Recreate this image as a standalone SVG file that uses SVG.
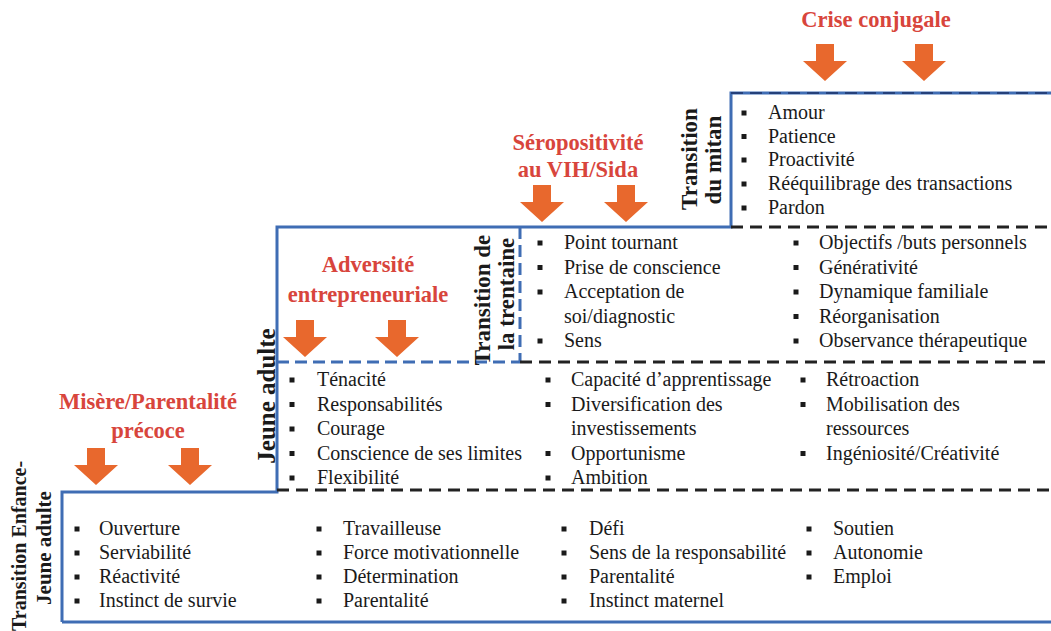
<svg xmlns="http://www.w3.org/2000/svg" xmlns:xlink="http://www.w3.org/1999/xlink" width="1051" height="631" viewBox="0 0 1051 631">
<style>
.item{font-family:"Liberation Serif","Times New Roman",serif;font-size:20px;fill:#1a1a1a}
.head{font-family:"Liberation Serif","Times New Roman",serif;font-size:22.5px;font-weight:bold;fill:#d8453c;text-anchor:middle}
.vlab{font-family:"Liberation Serif","Times New Roman",serif;font-size:23px;font-weight:bold;fill:#1a1a1a;text-anchor:middle}
.blue{fill:none;stroke:#3f6db4;stroke-width:3}
.bdash{fill:none;stroke:#3f6db4;stroke-width:3;stroke-dasharray:12 6}
.kdash{fill:none;stroke:#222;stroke-width:3;stroke-dasharray:12 7}
.arrow{fill:#e8682d}
</style>
<defs>
<rect id="b" x="-2.5" y="-2.5" width="5" height="5" fill="#1a1a1a"/>
<path id="arr" d="M-9,0 H9 V17 H22 L0,37 L-22,17 H-9 Z"/>
</defs>
<rect width="1051" height="631" fill="#fff"/>

<g id="connectors">
<path class="blue" d="M62,622 H1051"/>
<path class="blue" d="M62,622 V492 H277 V227 H731 V93 H1051"/>
<path class="kdash" d="M731,93 H1051" style="stroke:#24407a;stroke-width:2"/>
<path class="bdash" d="M277,362 H520 M520,227 V362"/>
<path class="kdash" d="M731,227 H1051 M520,362 H1051 M277,490 H1051"/>
</g>

<g id="arrows" class="arrow">
<use xlink:href="#arr" x="96" y="448"/>
<use xlink:href="#arr" x="190" y="448"/>
<use xlink:href="#arr" x="305" y="320"/>
<use xlink:href="#arr" x="397" y="320"/>
<use xlink:href="#arr" x="542" y="185"/>
<use xlink:href="#arr" x="626" y="185"/>
<use xlink:href="#arr" x="825" y="44"/>
<use xlink:href="#arr" x="924" y="44"/>
</g>

<g id="headings">
<text class="head" x="148" y="409">Misère/Parentalité</text>
<text class="head" x="148" y="438">précoce</text>
<text class="head" x="368" y="272">Adversité</text>
<text class="head" x="368" y="302">entrepreneuriale</text>
<text class="head" x="578" y="150">Séropositivité</text>
<text class="head" x="578" y="177">au VIH/Sida</text>
<text class="head" x="876" y="27">Crise conjugale</text>
</g>

<g id="labels">
<text class="vlab" style="font-size:20px" transform="translate(26,546) rotate(-90)">Transition Enfance-</text>
<text class="vlab" style="font-size:21px" transform="translate(51,548) rotate(-90)">Jeune adulte</text>
<text class="vlab" style="font-size:25px" transform="translate(275,396) rotate(-90)">Jeune adulte</text>
<text class="vlab" transform="translate(490,300) rotate(-90)">Transition de</text>
<text class="vlab" transform="translate(514,294) rotate(-90)">la trentaine</text>
<text class="vlab" transform="translate(697,159) rotate(-90)">Transition</text>
<text class="vlab" transform="translate(721,160) rotate(-90)">du mitan</text>
</g>

<g id="step1">
<use xlink:href="#b" x="77" y="529"/><text class="item" x="99" y="535">Ouverture</text>
<use xlink:href="#b" x="77" y="553"/><text class="item" x="99" y="559">Serviabilité</text>
<use xlink:href="#b" x="77" y="577"/><text class="item" x="99" y="583">Réactivité</text>
<use xlink:href="#b" x="77" y="601"/><text class="item" x="99" y="607">Instinct de survie</text>
<use xlink:href="#b" x="319" y="529"/><text class="item" x="343" y="535">Travailleuse</text>
<use xlink:href="#b" x="319" y="553"/><text class="item" x="343" y="559">Force motivationnelle</text>
<use xlink:href="#b" x="319" y="577"/><text class="item" x="343" y="583">Détermination</text>
<use xlink:href="#b" x="319" y="601"/><text class="item" x="343" y="607">Parentalité</text>
<use xlink:href="#b" x="564" y="529"/><text class="item" x="589" y="535">Défi</text>
<use xlink:href="#b" x="564" y="553"/><text class="item" x="589" y="559">Sens de la responsabilité</text>
<use xlink:href="#b" x="564" y="577"/><text class="item" x="589" y="583">Parentalité</text>
<use xlink:href="#b" x="564" y="601"/><text class="item" x="589" y="607">Instinct maternel</text>
<use xlink:href="#b" x="809" y="529"/><text class="item" x="833" y="535">Soutien</text>
<use xlink:href="#b" x="809" y="553"/><text class="item" x="833" y="559">Autonomie</text>
<use xlink:href="#b" x="809" y="577"/><text class="item" x="833" y="583">Emploi</text>
</g>

<g id="step2">
<use xlink:href="#b" x="292" y="380"/><text class="item" x="317" y="386">Ténacité</text>
<use xlink:href="#b" x="292" y="404.5"/><text class="item" x="317" y="410.5">Responsabilités</text>
<use xlink:href="#b" x="292" y="429"/><text class="item" x="317" y="435">Courage</text>
<use xlink:href="#b" x="292" y="453.5"/><text class="item" x="317" y="459.5">Conscience de ses limites</text>
<use xlink:href="#b" x="292" y="478"/><text class="item" x="317" y="484">Flexibilité</text>
<use xlink:href="#b" x="548" y="380"/><text class="item" x="571" y="386">Capacité d’apprentissage</text>
<use xlink:href="#b" x="548" y="404.5"/><text class="item" x="571" y="410.5">Diversification des</text>
<text class="item" x="571" y="435">investissements</text>
<use xlink:href="#b" x="548" y="453.5"/><text class="item" x="571" y="459.5">Opportunisme</text>
<use xlink:href="#b" x="548" y="478"/><text class="item" x="571" y="484">Ambition</text>
<use xlink:href="#b" x="803" y="380"/><text class="item" x="826" y="386">Rétroaction</text>
<use xlink:href="#b" x="803" y="404.5"/><text class="item" x="826" y="410.5">Mobilisation des</text>
<text class="item" x="826" y="435">ressources</text>
<use xlink:href="#b" x="803" y="453.5"/><text class="item" x="826" y="459.5">Ingéniosité/Créativité</text>
</g>

<g id="step3">
<use xlink:href="#b" x="540" y="243"/><text class="item" x="564" y="249">Point tournant</text>
<use xlink:href="#b" x="540" y="267.5"/><text class="item" x="564" y="273.5">Prise de conscience</text>
<use xlink:href="#b" x="540" y="292"/><text class="item" x="564" y="298">Acceptation de</text>
<text class="item" x="564" y="322.5">soi/diagnostic</text>
<use xlink:href="#b" x="540" y="341"/><text class="item" x="564" y="347">Sens</text>
<use xlink:href="#b" x="796" y="243"/><text class="item" x="819" y="249">Objectifs /buts personnels</text>
<use xlink:href="#b" x="796" y="267.5"/><text class="item" x="819" y="273.5">Générativité</text>
<use xlink:href="#b" x="796" y="292"/><text class="item" x="819" y="298">Dynamique familiale</text>
<use xlink:href="#b" x="796" y="316.5"/><text class="item" x="819" y="322.5">Réorganisation</text>
<use xlink:href="#b" x="796" y="341"/><text class="item" x="819" y="347">Observance thérapeutique</text>
</g>

<g id="step4">
<use xlink:href="#b" x="744" y="113"/><text class="item" x="768" y="119">Amour</text>
<use xlink:href="#b" x="744" y="136.5"/><text class="item" x="768" y="142.5">Patience</text>
<use xlink:href="#b" x="744" y="160"/><text class="item" x="768" y="166">Proactivité</text>
<use xlink:href="#b" x="744" y="184"/><text class="item" x="768" y="190">Rééquilibrage des transactions</text>
<use xlink:href="#b" x="744" y="208"/><text class="item" x="768" y="214">Pardon</text>
</g>
</svg>
